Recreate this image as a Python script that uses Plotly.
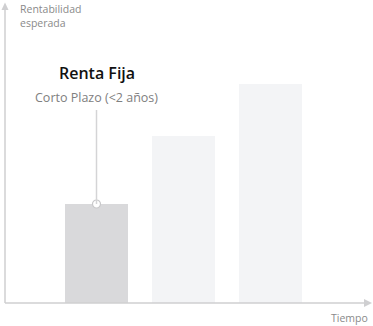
import plotly.graph_objects as go

W, H = 373, 326

categories = ["Corto Plazo", "Medio Plazo", "Largo Plazo"]
values = [99, 167, 219]
bar_colors = ["#d9d9db", "#f3f4f6", "#f3f4f6"]
title_text = "Renta Fija"
subtitle_text = "Corto Plazo (<2 años)"
y_label = "Rentabilidad<br>esperada"
x_label = "Tiempo"

FONT = "Open Sans, sans-serif"
AXIS_COLOR = "#cfcfd1"

xs = list(range(len(categories)))

def px(x):
    return x / W

def py(y):
    return 1 - y / H

fig = go.Figure()
fig.add_trace(go.Bar(
    x=xs, y=values, width=0.724,
    marker=dict(color=bar_colors, line=dict(width=0)),
    hoverinfo="skip", showlegend=False,
))
# leader line and marker on first bar
fig.add_shape(type="line", xref="x", yref="y",
              x0=xs[0], x1=xs[0], y0=values[0], y1=193,
              line=dict(color="#d4d4d6", width=1.5))
fig.add_trace(go.Scatter(
    x=[xs[0]], y=[values[0]], mode="markers",
    marker=dict(size=8, color="white", line=dict(color="#c8c8ca", width=1.2)),
    hoverinfo="skip", showlegend=False,
))

# axis lines
fig.add_shape(type="line", xref="paper", yref="paper",
              x0=px(5), x1=px(5), y0=py(303), y1=py(8),
              line=dict(color=AXIS_COLOR, width=1.5))
fig.add_shape(type="line", xref="paper", yref="paper",
              x0=px(5), x1=px(366), y0=py(303), y1=py(303),
              line=dict(color=AXIS_COLOR, width=1.5))
# arrow heads
fig.add_shape(type="path", xref="paper", yref="paper",
              path=f"M {px(1.5)} {py(10)} L {px(5)} {py(2.5)} L {px(8.5)} {py(10)} Z",
              fillcolor=AXIS_COLOR, line=dict(width=0))
fig.add_shape(type="path", xref="paper", yref="paper",
              path=f"M {px(364)} {py(299)} L {px(372)} {py(303)} L {px(364)} {py(307)} Z",
              fillcolor=AXIS_COLOR, line=dict(width=0))

fig.add_annotation(x=xs[0], y=py(73), xref="x", yref="paper",
                   text=title_text, showarrow=False,
                   font=dict(family=FONT, size=16, color="#111111", weight=600),
                   xanchor="center", yanchor="middle")
fig.add_annotation(x=xs[0], y=py(97), xref="x", yref="paper",
                   text=subtitle_text, showarrow=False,
                   font=dict(family=FONT, size=12.5, color="#808080"),
                   xanchor="center", yanchor="middle")
fig.add_annotation(x=px(18), y=py(16), xref="paper", yref="paper",
                   text=y_label, showarrow=False, align="left",
                   font=dict(family=FONT, size=10.5, color="#8a8a8a"),
                   xanchor="left", yanchor="middle")
fig.add_annotation(x=px(370), y=py(318), xref="paper", yref="paper",
                   text=x_label, showarrow=False,
                   font=dict(family=FONT, size=10.5, color="#8a8a8a"),
                   xanchor="right", yanchor="middle")

x0 = -96.5 / 87
fig.update_layout(
    width=W, height=H,
    margin=dict(l=0, r=0, t=0, b=0),
    paper_bgcolor="white", plot_bgcolor="white",
    xaxis=dict(range=[x0, x0 + W / 87], visible=False, fixedrange=True),
    yaxis=dict(range=[-23, 303], visible=False, fixedrange=True),
    bargap=0,
)
fig.write_html("out.html")
